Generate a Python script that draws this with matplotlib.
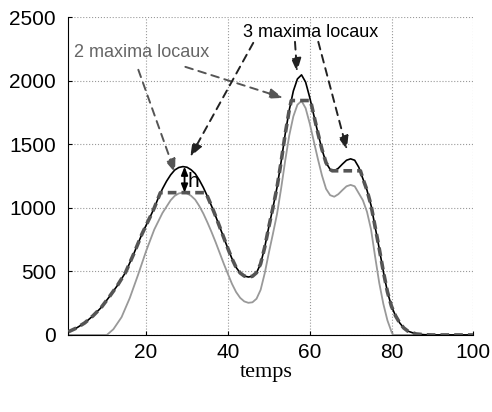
import numpy as np
import matplotlib
matplotlib.use('Agg')
from matplotlib import pyplot as plt

# black curve (original signal)
t = [1, 3, 5, 7, 9, 11, 13, 15, 17, 19, 21, 22, 23, 24, 25, 26, 27, 28, 29, 30,
     31, 32, 33, 34, 35, 36, 37, 38, 39, 40, 41, 42, 43, 44, 45, 46, 47, 48, 49, 50,
     51, 52, 53, 54, 55, 56, 57, 58, 59, 60, 61, 62, 63, 64, 65, 66, 67, 68, 69, 70,
     71, 72, 73, 74, 75, 76, 77, 78, 79, 80, 81, 82, 83, 84, 86, 88, 90, 95, 100]
signal = [25, 55, 95, 150, 215, 300, 390, 494, 640, 795, 930, 1000, 1080, 1150, 1210, 1260, 1298, 1318, 1325, 1320,
          1300, 1270, 1220, 1160, 1090, 1015, 935, 850, 765, 680, 600, 532, 488, 464, 456, 462, 490, 560, 690, 850,
          1000, 1160, 1360, 1580, 1770, 1920, 2015, 2047, 1990, 1870, 1730, 1590, 1460, 1355, 1303, 1292, 1312, 1345, 1375, 1386,
          1375, 1320, 1230, 1140, 1020, 850, 680, 500, 340, 225, 150, 95, 55, 30, 8, 2, 0, 0, 0]

# light gray curve (signal minus h)
t_low = [1, 10.4, 12, 14, 16, 18, 20, 22, 24, 25, 26, 27, 28, 29, 30, 31, 32, 33, 34, 35,
         36, 37, 38, 39, 40, 41, 42, 43, 44, 45, 46, 47, 48, 49, 50, 51, 52, 53, 54, 55,
         56, 57, 58, 59, 60, 61, 62, 63, 64, 65, 66, 67, 68, 69, 70, 71, 72, 73, 74, 75,
         76, 77, 78, 79, 80, 80.4, 100]
lowered = [0, 0, 45, 140, 290, 470, 660, 830, 960, 1010, 1060, 1095, 1114, 1120, 1115, 1095, 1065, 1015, 955, 885,
           810, 730, 645, 560, 480, 402, 338, 292, 264, 253, 257, 285, 355, 485, 645, 795, 950, 1150, 1370, 1570,
           1720, 1812, 1842, 1785, 1665, 1525, 1385, 1255, 1150, 1100, 1088, 1108, 1140, 1170, 1181, 1170, 1115, 1060, 970, 830,
           615, 410, 245, 115, 25, 0, 0]

# dashed curve (reconstruction)
t_rec = [1, 3, 5, 7, 9, 11, 13, 15, 17, 19, 21, 22, 23, 23.5, 34.6, 35, 36, 37, 38, 39,
         40, 41, 42, 43, 44, 45, 46, 47, 48, 49, 50, 51, 52, 53, 54, 55, 55.5, 60.2, 61, 62,
         63, 64, 65, 65.5, 72.4, 73, 74, 75, 76, 77, 78, 79, 80, 81, 82, 83, 84, 86, 88, 90, 95, 100]
rec = [25, 55, 95, 150, 215, 300, 390, 494, 640, 795, 930, 1000, 1080, 1120, 1120, 1090, 1015, 935, 850, 765,
       680, 600, 532, 488, 464, 456, 462, 490, 560, 690, 850, 1000, 1160, 1360, 1580, 1770, 1845, 1845, 1730, 1590,
       1460, 1355, 1303, 1292, 1292, 1230, 1140, 1020, 850, 680, 500, 340, 225, 150, 95, 55, 30, 8, 2, 0, 0, 0]

plt.rcParams['font.family'] = ['Liberation Sans', 'DejaVu Sans']
fig = plt.figure(figsize=(4.92, 4.12), dpi=100)
ax = fig.add_axes([0.139, 0.187, 0.823, 0.771])

ax.plot(t, signal, color='black', linewidth=1.2, zorder=3)
ax.plot(t_low, lowered, color='#999999', linewidth=1.3, zorder=2)
ax.plot(t_rec, rec, color='#555555', linewidth=2.6, dashes=(2.4, 1.4), zorder=4)

ax.set_xlim(1, 100)
ax.set_ylim(0, 2500)
ax.set_xticks([20, 40, 60, 80, 100])
ax.set_yticks([0, 500, 1000, 1500, 2000, 2500])
ax.grid(True, linestyle=':', color='#999999', linewidth=0.8)
ax.spines['top'].set_visible(False)
ax.spines['right'].set_visible(False)
ax.tick_params(direction='in', length=3, labelsize=15)
ax.tick_params(axis='y', pad=9)
ax.tick_params(axis='x', pad=6)

fig.text(266.7 / 492, 1 - 373 / 412, 'temps', family='Liberation Serif',
         fontsize=16, ha='center', va='center')

# annotations
ax.text(2.4, 2220, '2 maxima locaux', color='#666666', fontsize=13, va='center')
ax.text(43.7, 2378, '3 maxima locaux', color='black', fontsize=13, va='center')

gray_arr = dict(arrowstyle='-|>,head_length=0.8,head_width=0.3', linestyle=(0, (4, 3)),
                color='#555555', linewidth=1.4, shrinkA=0, shrinkB=0)
black_arr = dict(arrowstyle='-|>,head_length=0.8,head_width=0.3', linestyle=(0, (4, 3)),
                 color='#222222', linewidth=1.4, shrinkA=0, shrinkB=0)
ax.annotate('', xy=(27.1, 1276), xytext=(18.1, 2087), arrowprops=gray_arr)
ax.annotate('', xy=(53.5, 1866), xytext=(29.6, 2110), arrowprops=gray_arr)
ax.annotate('', xy=(30.8, 1402), xytext=(46.2, 2299), arrowprops=black_arr)
ax.annotate('', xy=(56.9, 2071), xytext=(56.4, 2307), arrowprops=black_arr)
ax.annotate('', xy=(69.1, 1457), xytext=(62.1, 2307), arrowprops=black_arr)

# h arrow
ax.annotate('', xy=(29.4, 1325), xytext=(29.4, 1120),
            arrowprops=dict(arrowstyle='<|-|>,head_length=0.5,head_width=0.2',
                            color='black', linewidth=1.3, shrinkA=0, shrinkB=0), zorder=6)
ax.text(30.2, 1205, 'h', fontsize=15, va='center', zorder=6)

fig.savefig('out.png', dpi=100)
